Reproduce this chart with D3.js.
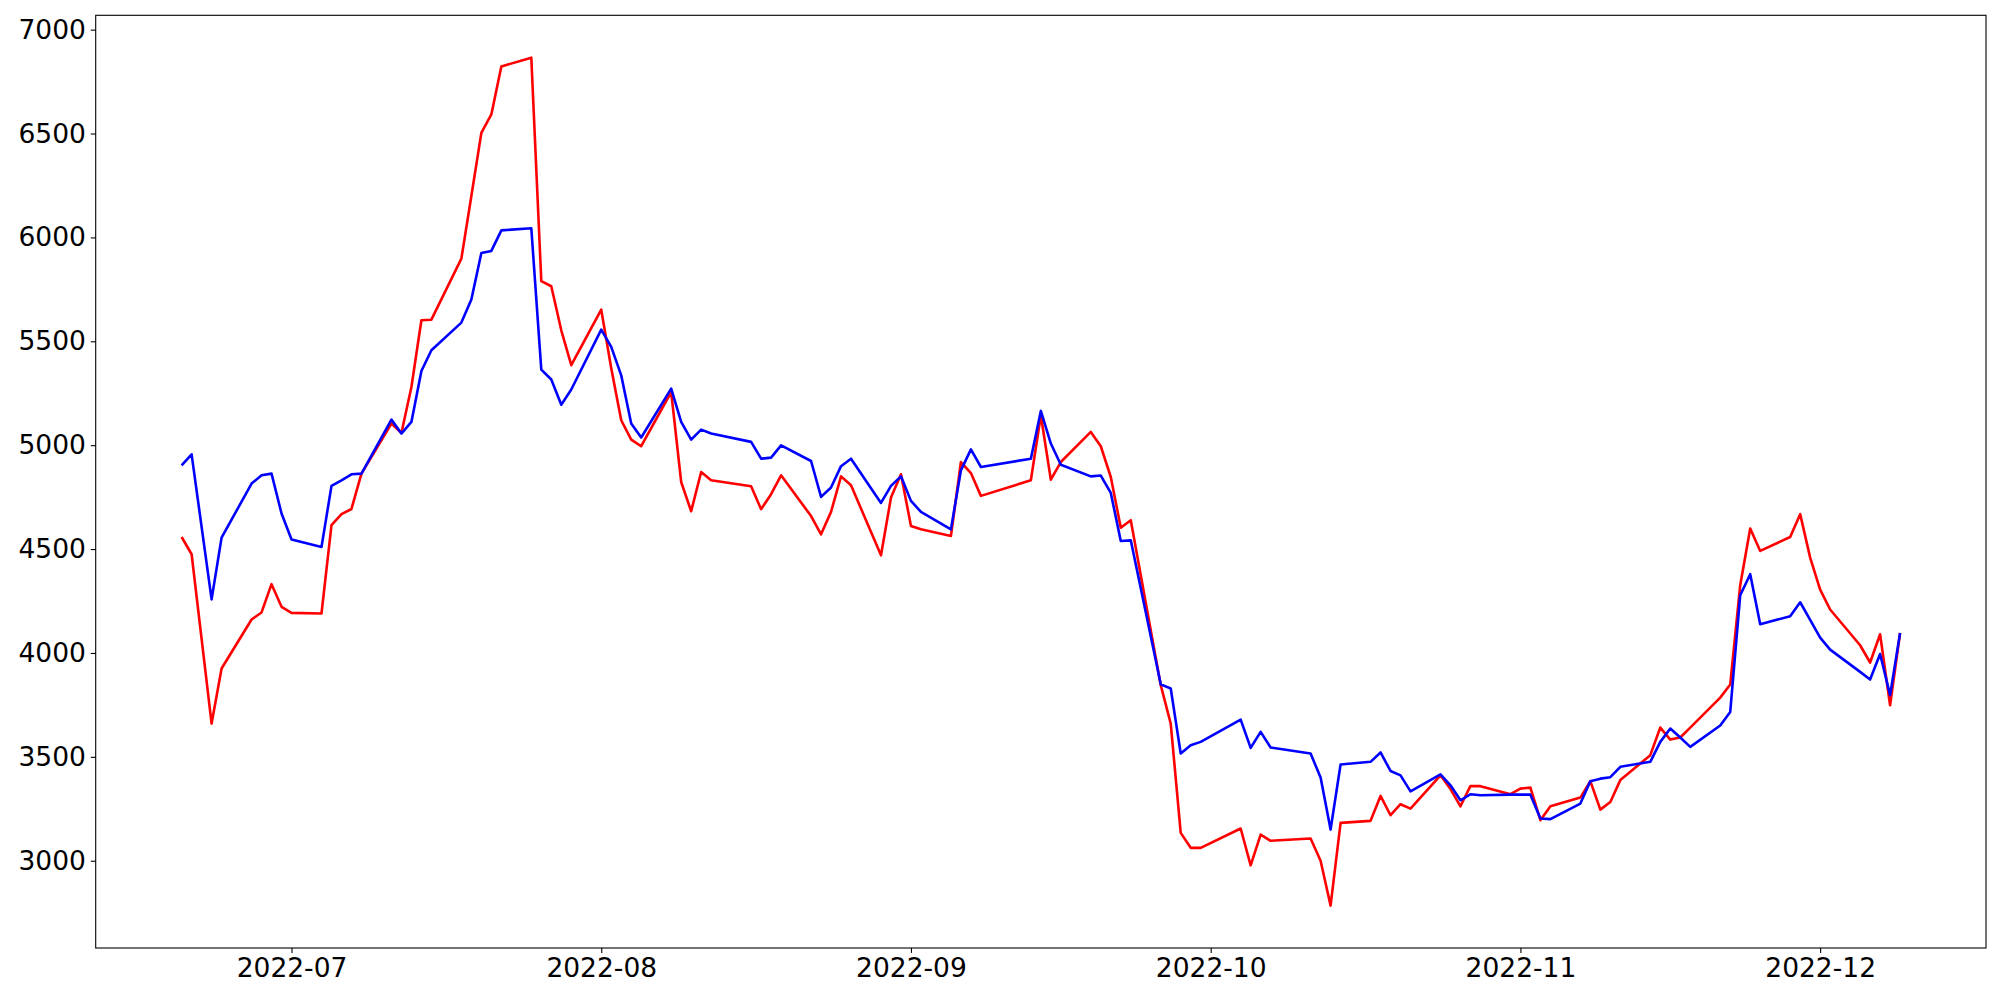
<!DOCTYPE html>
<html>
<head>
<meta charset="utf-8">
<script src="https://cdn.jsdelivr.net/npm/d3@7"></script>
<style>
  html, body { margin: 0; padding: 0; background: #fff; }
  svg { display: block; }
  text { font-family: "DejaVu Sans", sans-serif; }
</style>
</head>
<body>
<svg id="chart" width="2000" height="1000"></svg>
<script>
const dates = [
  "2022-06-20","2022-06-21","2022-06-22","2022-06-23","2022-06-24","2022-06-27","2022-06-28","2022-06-29","2022-06-30",
  "2022-07-01","2022-07-04","2022-07-05","2022-07-06","2022-07-07","2022-07-08","2022-07-11","2022-07-12","2022-07-13",
  "2022-07-14","2022-07-15","2022-07-18","2022-07-19","2022-07-20","2022-07-21","2022-07-22","2022-07-25","2022-07-26",
  "2022-07-27","2022-07-28","2022-07-29","2022-08-01","2022-08-02","2022-08-03","2022-08-04","2022-08-05","2022-08-08",
  "2022-08-09","2022-08-10","2022-08-11","2022-08-12","2022-08-16","2022-08-17","2022-08-18","2022-08-19","2022-08-22",
  "2022-08-23","2022-08-24","2022-08-25","2022-08-26","2022-08-29","2022-08-30","2022-08-31","2022-09-01","2022-09-02",
  "2022-09-05","2022-09-06","2022-09-07","2022-09-08","2022-09-13","2022-09-14","2022-09-15","2022-09-16","2022-09-19",
  "2022-09-20","2022-09-21","2022-09-22","2022-09-23","2022-09-26","2022-09-27","2022-09-28","2022-09-29","2022-09-30",
  "2022-10-04","2022-10-05","2022-10-06","2022-10-07","2022-10-11","2022-10-12","2022-10-13","2022-10-14","2022-10-17",
  "2022-10-18","2022-10-19","2022-10-20","2022-10-21","2022-10-24","2022-10-25","2022-10-26","2022-10-27","2022-10-28",
  "2022-10-31","2022-11-01","2022-11-02","2022-11-03","2022-11-04","2022-11-07","2022-11-08","2022-11-09","2022-11-10",
  "2022-11-11","2022-11-14","2022-11-15","2022-11-16","2022-11-17","2022-11-18","2022-11-21","2022-11-22","2022-11-23",
  "2022-11-24","2022-11-25","2022-11-28","2022-11-29","2022-11-30","2022-12-01","2022-12-02","2022-12-05","2022-12-06",
  "2022-12-07","2022-12-08","2022-12-09"
];
const redValues = [
  4558,4475,4068,3660,3925,4161,4195,4331,4222,
  4193,4190,4615,4668,4693,4863,5104,5059,5280,
  5601,5604,5898,6199,6503,6592,6823,6865,5790,
  5765,5553,5385,5652,5370,5120,5027,4995,5256,
  4823,4682,4871,4831,4802,4692,4764,4855,4659,
  4571,4679,4850,4807,4470,4748,4860,4611,4595,
  4563,4919,4866,4756,4831,5144,4834,4919,5064,
  4995,4847,4603,4639,3845,3660,3134,3062,3062,
  3155,2978,3126,3096,3107,3000,2784,3182,3192,
  3312,3219,3272,3251,3411,3345,3262,3360,3359,
  3320,3347,3352,3195,3262,3304,3383,3246,3283,
  3388,3508,3641,3583,3593,3641,3785,3848,4326,
  4599,4491,4558,4668,4459,4305,4209,4037,3954,
  4090,3748,4096
];
const blueValues = [
  4903,4956,4607,4258,4555,4815,4855,4863,4671,
  4546,4510,4804,4831,4860,4863,5123,5056,5112,
  5357,5457,5590,5701,5925,5935,6034,6044,5364,
  5316,5195,5268,5556,5473,5336,5104,5037,5272,
  5112,5027,5075,5056,5016,4935,4940,4999,4924,
  4751,4796,4899,4935,4722,4804,4850,4732,4679,
  4595,4879,4980,4895,4935,5165,5008,4906,4850,
  4854,4770,4539,4542,3849,3829,3516,3556,3572,
  3679,3543,3620,3545,3516,3400,3150,3463,3476,
  3521,3432,3411,3334,3416,3363,3291,3320,3315,
  3318,3318,3318,3203,3200,3275,3383,3395,3402,
  3452,3476,3572,3636,3593,3548,3651,3716,4278,
  4379,4138,4177,4244,4159,4074,4016,3909,3872,
  3995,3797,4096
];
const yTicks = [3000,3500,4000,4500,5000,5500,6000,6500,7000];
const xTickDates = ["2022-07-01","2022-08-01","2022-09-01","2022-10-01","2022-11-01","2022-12-01"];
const seriesColors = ["#ff0000", "#0000ff"];

const parse = d3.utcParse("%Y-%m-%d");
const fmt = d3.utcFormat("%Y-%m");
const xs = dates.map(parse);

const margin = {left: 95.7, right: 14, top: 15.3, bottom: 52};
const W = 2000, H = 1000;
const svg = d3.select("#chart");

// matplotlib-like 5% margins
const xExt = d3.extent(xs);
const xSpan = xExt[1] - xExt[0];
const allV = redValues.concat(blueValues);
const yExt = d3.extent(allV);
const ySpan = yExt[1] - yExt[0];

const x = d3.scaleUtc()
  .domain([new Date(+xExt[0] - 0.05 * xSpan), new Date(+xExt[1] + 0.05 * xSpan)])
  .range([margin.left, W - margin.right]);
const y = d3.scaleLinear()
  .domain([yExt[0] - 0.05 * ySpan, yExt[1] + 0.05 * ySpan])
  .range([H - margin.bottom, margin.top]);

const line = d3.line().x((d, i) => x(xs[i])).y(d => y(d));

[redValues, blueValues].forEach((vals, k) => {
  svg.append("path")
    .datum(vals)
    .attr("fill", "none")
    .attr("stroke", seriesColors[k])
    .attr("stroke-width", 2.6)
    .attr("stroke-linejoin", "round")
    .attr("stroke-linecap", "butt")
    .attr("d", line);
});

const fontSize = "26.5px";
// x axis
const xAxis = d3.axisBottom(x)
  .tickValues(xTickDates.map(parse))
  .tickFormat(fmt)
  .tickSize(4.9)
  .tickPadding(4.9);
const gx = svg.append("g")
  .attr("transform", `translate(0,${H - margin.bottom})`)
  .call(xAxis);
gx.select(".domain").remove();
gx.selectAll(".tick line").attr("stroke", "#000").attr("stroke-width", 1.1);
gx.selectAll("text").attr("fill", "#000").style("font-size", fontSize).style("font-family", "DejaVu Sans");

// y axis
const yAxis = d3.axisLeft(y)
  .tickValues(yTicks)
  .tickFormat(d3.format("d"))
  .tickSize(4.9)
  .tickPadding(4.9);
const gy = svg.append("g")
  .attr("transform", `translate(${margin.left},0)`)
  .call(yAxis);
gy.select(".domain").remove();
gy.selectAll(".tick line").attr("stroke", "#000").attr("stroke-width", 1.1);
gy.selectAll("text").attr("fill", "#000").style("font-size", fontSize).style("font-family", "DejaVu Sans");

// frame
svg.append("rect")
  .attr("x", margin.left)
  .attr("y", margin.top)
  .attr("width", W - margin.right - margin.left)
  .attr("height", H - margin.bottom - margin.top)
  .attr("fill", "none")
  .attr("stroke", "#000")
  .attr("stroke-width", 1.1);
</script>
</body>
</html>
